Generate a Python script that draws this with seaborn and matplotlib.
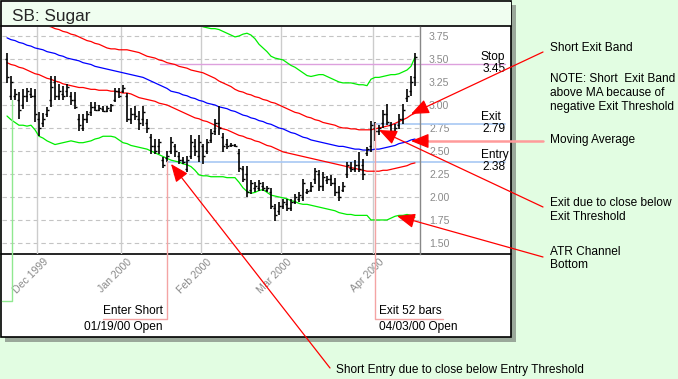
import matplotlib
matplotlib.use("Agg")
import matplotlib.pyplot as plt
import matplotlib.transforms as mtransforms
from matplotlib.lines import Line2D
from matplotlib.patches import Rectangle, FancyArrowPatch
import numpy as np
import pandas as pd
import seaborn as sns

nan = np.nan

# ---- data (one entry per trading day, Nov 19 1999 .. Apr 17 2000) ----
highs = [3.57, 3.32, 3.17, 3.14, 3.17, 3.19, 3.19, 3.17, 2.92, 2.91,
         2.98, 3.31, 3.32, 3.23, 3.21, 3.23, 3.14, 3.14, 2.90, 2.90,
         2.93, 3.03, 3.03, 3.00, 2.99, 2.99, 3.01, 3.19, 3.19, 3.22,
         3.13, 2.97, 2.99, 2.93, 2.99, 2.85, 2.68, 2.63, 2.63, 2.43,
         2.50, 2.65, 2.58, 2.49, 2.43, 2.45, 2.67, 2.63, 2.67, 2.58,
         2.63, 2.74, 2.85, 2.99, 2.69, 2.63, 2.59, 2.58, 2.52, 2.34,
         2.34, 2.18, 2.16, 2.18, 2.16, 2.12, 2.10, 1.92, 1.94, 1.98,
         1.98, 1.98, 2.03, 2.05, 2.20, 2.09, 2.16, 2.32, 2.29, 2.27,
         2.23, 2.24, 2.21, 2.12, 2.16, 2.38, 2.38, 2.40, 2.49, 2.41,
         2.54, 2.83, 2.81, 2.78, 2.95, 3.01, 2.81, 2.79, 2.90, 3.01,
         3.17, 3.32, 3.57]
lows = [3.24, 3.05, 3.05, 2.85, 2.96, 3.03, 3.08, 2.81, 2.66, 2.76,
        2.87, 2.98, 3.05, 3.05, 3.05, 3.09, 3.00, 2.96, 2.72, 2.72,
        2.80, 2.88, 2.93, 2.93, 2.92, 2.92, 2.92, 3.03, 3.08, 3.13,
        2.81, 2.79, 2.84, 2.73, 2.77, 2.70, 2.47, 2.47, 2.47, 2.32,
        2.38, 2.47, 2.43, 2.36, 2.36, 2.27, 2.41, 2.45, 2.38, 2.36,
        2.47, 2.59, 2.67, 2.67, 2.49, 2.52, 2.54, 2.54, 2.27, 2.16,
        2.00, 2.03, 2.05, 2.07, 2.07, 2.05, 1.87, 1.74, 1.80, 1.87,
        1.85, 1.85, 1.92, 1.94, 1.96, 2.03, 2.05, 2.14, 2.07, 2.07,
        2.14, 2.12, 2.01, 1.96, 2.05, 2.21, 2.27, 2.27, 2.27, 2.18,
        2.45, 2.49, 2.61, 2.67, 2.75, 2.78, 2.67, 2.68, 2.74, 2.79,
        3.03, 3.10, 3.21]
opens = [3.50, 3.10, 3.10, 3.05, 3.00, 3.10, 3.12, 3.10, 2.85, 2.80,
         2.90, 3.05, 3.25, 3.10, 3.12, 3.15, 3.10, 3.05, 2.85, 2.75,
         2.85, 2.92, 2.98, 2.95, 2.96, 2.94, 2.95, 3.05, 3.15, 3.15,
         3.10, 2.85, 2.90, 2.85, 2.85, 2.80, 2.65, 2.55, 2.55, 2.40,
         2.42, 2.50, 2.55, 2.45, 2.40, 2.30, 2.45, 2.55, 2.45, 2.55,
         2.50, 2.62, 2.72, 2.80, 2.65, 2.58, 2.56, 2.56, 2.48, 2.30,
         2.25, 2.08, 2.10, 2.10, 2.12, 2.08, 2.05, 1.88, 1.85, 1.90,
         1.92, 1.88, 1.95, 1.98, 2.00, 2.05, 2.08, 2.20, 2.25, 2.12,
         2.18, 2.20, 2.15, 2.05, 2.08, 2.25, 2.32, 2.30, 2.35, 2.35,
         2.48, 2.55, 2.75, 2.72, 2.80, 2.90, 2.78, 2.72, 2.78, 2.85,
         3.08, 3.15, 3.30]
closes = [3.30, 3.25, 3.12, 2.95, 3.10, 3.15, 3.10, 2.90, 2.75, 2.85,
          2.95, 3.20, 3.10, 3.15, 3.10, 3.20, 3.05, 2.98, 2.78, 2.85,
          2.90, 2.98, 2.95, 2.97, 2.94, 2.97, 3.00, 3.15, 3.10, 3.18,
          2.85, 2.90, 2.88, 2.80, 2.92, 2.75, 2.55, 2.50, 2.60, 2.35,
          2.45, 2.60, 2.50, 2.40, 2.38, 2.40, 2.60, 2.50, 2.60, 2.45,
          2.60, 2.70, 2.80, 2.75, 2.55, 2.55, 2.57, 2.55, 2.32, 2.20,
          2.05, 2.15, 2.12, 2.15, 2.10, 2.10, 1.90, 1.80, 1.90, 1.95,
          1.88, 1.95, 2.00, 2.02, 2.15, 2.07, 2.12, 2.28, 2.12, 2.22,
          2.20, 2.15, 2.05, 2.00, 2.12, 2.35, 2.30, 2.35, 2.30, 2.25,
          2.52, 2.78, 2.72, 2.75, 2.90, 2.82, 2.72, 2.75, 2.85, 2.95,
          3.10, 3.25, 3.52]

moving_avg = [3.73, 3.71, 3.70, 3.68, 3.67, 3.65, 3.64,
              3.62, 3.61, 3.60, 3.58, 3.57, 3.56, 3.54, 3.53, 3.51,
              3.50, 3.49, 3.48, 3.46, 3.45, 3.44, 3.42, 3.41,
              3.40, 3.39, 3.38, 3.37, 3.36, 3.35, 3.34, 3.33, 3.32, 3.31, 3.30,
              3.28, 3.26, 3.24, 3.22, 3.20, 3.18, 3.15,
              3.14, 3.13, 3.11, 3.10, 3.08, 3.07, 3.05, 3.04, 3.02,
              3.01, 3.00, 2.98, 2.97, 2.96, 2.94, 2.93, 2.91,
              2.89, 2.88, 2.86, 2.85, 2.83, 2.82, 2.80, 2.79, 2.77, 2.75, 2.74,
              2.72, 2.70, 2.69, 2.67, 2.65, 2.64, 2.62,
              2.61, 2.60, 2.59, 2.58, 2.57, 2.56, 2.55, 2.55, 2.54,
              2.53, 2.52, 2.52, 2.51, 2.51, 2.51,
              2.52, 2.52, 2.53, 2.54, 2.55,
              2.56, 2.58, 2.59, 2.60, 2.62, 2.63]
upper_band = [4.00, 3.99, 3.97, 3.96, 3.94, 3.93, 3.92, 3.90, 3.89, 3.88, 3.86,
              3.85, 3.83, 3.82, 3.80, 3.79, 3.77, 3.76, 3.74, 3.72,
              3.70, 3.69, 3.67, 3.66, 3.64, 3.62, 3.61,
              3.61, 3.60, 3.60, 3.60, 3.59, 3.58, 3.57, 3.55,
              3.53, 3.52, 3.51, 3.49, 3.48, 3.46, 3.45,
              3.44, 3.42, 3.41, 3.40, 3.38, 3.37, 3.36, 3.35, 3.33,
              3.31, 3.29, 3.26, 3.24, 3.22, 3.20, 3.17, 3.15,
              3.14, 3.12, 3.11, 3.09, 3.08, 3.06, 3.05, 3.03, 3.02, 3.00, 2.98,
              2.96, 2.94, 2.92, 2.91, 2.89, 2.87, 2.86,
              2.84, 2.83, 2.81, 2.80, 2.79, 2.78, 2.76, 2.75, 2.75,
              2.74, 2.74, 2.73, 2.73, 2.73, 2.73,
              2.74, 2.75, 2.76, 2.77, 2.78,
              2.80, 2.82, 2.84, 2.86, 2.89, 2.91]
lower_band = [3.46, 3.44, 3.43, 3.41, 3.40, 3.38, 3.36,
              3.34, 3.33, 3.31, 3.29, 3.28, 3.26, 3.25, 3.23, 3.22,
              3.21, 3.20, 3.19, 3.19, 3.18, 3.17, 3.17, 3.16,
              3.16, 3.16, 3.15, 3.15, 3.14, 3.13, 3.13, 3.12, 3.10, 3.08, 3.07,
              3.06, 3.05, 3.04, 3.02, 3.01, 3.00, 2.98,
              2.96, 2.94, 2.92, 2.90, 2.88, 2.86, 2.85, 2.83, 2.82,
              2.80, 2.78, 2.76, 2.74, 2.73, 2.71, 2.69, 2.67,
              2.66, 2.64, 2.63, 2.61, 2.60, 2.58, 2.56, 2.55, 2.53, 2.51, 2.49,
              2.48, 2.47, 2.46, 2.45, 2.44, 2.43, 2.42,
              2.41, 2.40, 2.39, 2.38, 2.37, 2.36, 2.35, 2.34, 2.33,
              2.32, 2.31, 2.30, 2.29, 2.28, 2.28,
              2.28, 2.28, 2.29, 2.29, 2.30,
              2.31, 2.32, 2.33, 2.34, 2.36, 2.37]
atr_top = [nan] * 46 + [3.95, 3.91, 3.87, 3.85, 3.84, 3.83, 3.83,
                        3.82, 3.80, 3.78, 3.76, 3.74, 3.75, 3.77, 3.78,
                        3.76, 3.72, 3.66, 3.62, 3.58, 3.53, 3.51, 3.50, 3.49,
                        3.46, 3.43, 3.41, 3.38, 3.35, 3.32, 3.31, 3.32, 3.33, 3.33,
                        3.31, 3.29, 3.27, 3.25, 3.24, 3.24, 3.24, 3.23, 3.22, 3.22, 3.21, 3.28,
                        3.30, 3.30, 3.31, 3.32, 3.33, 3.33, 3.34, 3.36, 3.38, 3.42, 3.52]
atr_bottom = [2.88, 2.84, 2.81, 2.78, 2.78, 2.77, 2.78, 2.73,
              2.66, 2.64, 2.61, 2.59, 2.57, 2.58, 2.59, 2.60,
              2.61, 2.60, 2.59, 2.59, 2.60, 2.61, 2.63, 2.64, 2.66,
              2.66, 2.66, 2.65, 2.62, 2.59, 2.58, 2.56, 2.55,
              2.54, 2.53, 2.52, 2.50, 2.48, 2.46, 2.44, 2.42,
              2.40, 2.39, 2.38, 2.36, 2.35, 2.33, 2.29, 2.24,
              2.23, 2.23, 2.22, 2.22, 2.22, 2.22, 2.21, 2.21, 2.21,
              2.16, 2.10, 2.06, 2.04, 2.05, 2.07, 2.08, 2.05, 2.02,
              2.01, 2.00, 1.99, 1.98, 1.96, 1.95, 1.93, 1.92, 1.92, 1.91,
              1.90, 1.89, 1.88, 1.87, 1.86, 1.85, 1.83, 1.82, 1.81,
              1.81, 1.80, 1.80, 1.80, 1.80, 1.75,
              1.75, 1.75, 1.75, 1.75, 1.77, 1.79,
              1.80, 1.80, 1.81, 1.80, 1.78]

month_pos = [7.5, 28.5, 48.5, 68.5, 91.5]
month_labels = ['Dec 1999', 'Jan 2000', 'Feb 2000', 'Mar 2000', 'Apr 2000']
y_ticks = [1.50, 1.75, 2.00, 2.25, 2.50, 2.75, 3.00, 3.25, 3.50, 3.75]

entry_bar, exit_bar = 40, 92
stop_level, exit_level, entry_level = 3.45, 2.79, 2.38

bar = np.arange(len(highs))
df = pd.DataFrame({'bar': bar, 'ma': moving_avg, 'upper': upper_band,
                   'lower': lower_band, 'atr_top': atr_top, 'atr_bottom': atr_bottom})

# ---- figure / panel ----
sns.set_style("white")
plt.rcParams['font.family'] = ['Liberation Sans', 'DejaVu Sans']

W, H = 678, 379
fig = plt.figure(figsize=(W / 100, H / 100), dpi=100)
fig.patch.set_facecolor('#e2fde2')


def fx(x):
    return x / W


def fy(y):
    return 1 - y / H


fig.add_artist(Rectangle((fx(5), fy(342)), 511 / W, 337 / H, transform=fig.transFigure,
                         fc='#9aa89a', ec='none', zorder=-3))
fig.add_artist(Rectangle((fx(1), fy(337)), 510 / W, 336 / H, transform=fig.transFigure,
                         fc='white', ec='black', lw=1.2, zorder=-2))
fig.add_artist(Rectangle((fx(1.5), fy(26)), 509 / W, 24.5 / H, transform=fig.transFigure,
                         fc='#f0fef0', ec='none', zorder=-1))
for yy in (26, 254):
    fig.add_artist(Line2D([fx(1), fx(511)], [fy(yy), fy(yy)], transform=fig.transFigure,
                          color='black', lw=1.2, zorder=-1))
fig.text(fx(12), fy(20.5), 'SB: Sugar', fontsize=12.4, va='baseline', ha='left')

# ---- price axes ----
ax = fig.add_axes([fx(2), fy(254), (420 - 2) / W, (254 - 26.7) / H])
ax.set_facecolor('none')
ax.set_xlim(-1.25, 103.25)
ax.set_ylim(1.38, 3.851)

for y in y_ticks:
    ax.axhline(y, color='#c4c4c4', lw=0.8, ls=(0, (4, 3)), zorder=0)
ax.set_xticks(month_pos)
ax.grid(axis='x', color='#cccccc', lw=1.0)
ax.set_axisbelow(True)

sns.lineplot(data=df, x='bar', y='atr_top', color='#00ee00', lw=0.9, estimator=None, ax=ax)
sns.lineplot(data=df, x='bar', y='atr_bottom', color='#00ee00', lw=0.9, estimator=None, ax=ax)
sns.lineplot(data=df, x='bar', y='upper', color='#ff0000', lw=0.9, estimator=None, ax=ax)
sns.lineplot(data=df, x='bar', y='lower', color='#ff0000', lw=0.9, estimator=None, ax=ax)
sns.lineplot(data=df, x='bar', y='ma', color='#0000ff', lw=0.9, estimator=None, ax=ax)

# trade level lines
ax.plot([38.25, 124.5], [stop_level] * 2, color='#dda0dd', lw=1.0, clip_on=False, zorder=1)
ax.plot([entry_bar, 124.5], [entry_level] * 2, color='#a8c8f4', lw=1.2, clip_on=False, zorder=1)
ax.plot([exit_bar - 0.5, 124.5], [exit_level] * 2, color='#a8c8f4', lw=1.2, clip_on=False, zorder=1)

# OHLC bars
ax.vlines(bar, lows, highs, color='black', lw=1.2, zorder=3)
ax.hlines(opens, bar - 0.4, bar, color='black', lw=1.0, zorder=3)
ax.hlines(closes, bar, bar + 0.4, color='black', lw=1.0, zorder=3)

ax.set_xlabel('')
ax.set_ylabel('')
ax.yaxis.tick_right()
ax.set_yticks(y_ticks)
ax.set_yticklabels(['%.2f' % t for t in y_ticks], color='#8a8a8a', fontsize=7.6)
ax.tick_params(axis='y', length=0, pad=6.5)
ax.set_xticklabels(month_labels, rotation=45, ha='right', va='top', rotation_mode='anchor',
                   color='#8a8a8a', fontsize=7.6)
ax.tick_params(axis='x', length=0, pad=2)
shift = mtransforms.ScaledTranslation(6 / 100, 0, fig.dpi_scale_trans)
for lab in ax.get_xticklabels():
    lab.set_transform(lab.get_transform() + shift)
for side in ('top', 'left', 'bottom'):
    ax.spines[side].set_visible(False)
ax.spines['right'].set_color('#888888')
ax.spines['right'].set_linewidth(1.0)

# trade markers below the chart
fig.add_artist(Line2D([fx(12), fx(12), fx(2)], [fy(100), fy(301), fy(301)],
                      transform=fig.transFigure, color='#90e890', lw=1.0))
fig.add_artist(Line2D([fx(167), fx(167), fx(103)], [fy(161), fy(319), fy(319)],
                      transform=fig.transFigure, color='#f4a4a4', lw=1.0))
fig.add_artist(Line2D([fx(375), fx(375), fx(443)], [fy(123), fy(319), fy(319)],
                      transform=fig.transFigure, color='#f4a4a4', lw=1.0))

txt = dict(fontsize=8.6, color='black')
fig.text(fx(163), fy(311), 'Enter Short', ha='right', va='center', **txt)
fig.text(fx(163), fy(327), '01/19/00 Open', ha='right', va='center', **txt)
fig.text(fx(379), fy(311), 'Exit 52 bars', ha='left', va='center', **txt)
fig.text(fx(379), fy(327), '04/03/00 Open', ha='left', va='center', **txt)

for name, val, yy in (('Stop', stop_level, 63), ('Exit', exit_level, 123), ('Entry', entry_level, 161)):
    fig.text(fx(481), fy(yy - 6), name, ha='left', va='center', **txt)
    fig.text(fx(506), fy(yy + 6), '%.2f' % val, ha='right', va='center', **txt)

# annotations
fig.text(fx(550), fy(48), 'Short Exit Band', ha='left', va='center', **txt)
fig.text(fx(550), fy(93), 'NOTE: Short  Exit Band\nabove MA because of\nnegative Exit Threshold',
         ha='left', va='center', linespacing=1.2, **txt)
fig.text(fx(550), fy(140), 'Moving Average', ha='left', va='center', **txt)
fig.text(fx(550), fy(210), 'Exit due to close below\nExit Threshold', ha='left', va='center',
         linespacing=1.2, **txt)
fig.text(fx(550), fy(258.5), 'ATR Channel\nBottom', ha='left', va='center', linespacing=1.2, **txt)
fig.text(fx(336), fy(370), 'Short Entry due to close below Entry Threshold', ha='left', va='center', **txt)


def arrow(x0, y0, x1, y1, color='#ff0000', lw=0.9):
    fig.add_artist(FancyArrowPatch((fx(x0), fy(y0)), (fx(x1), fy(y1)), transform=fig.transFigure,
                                   arrowstyle='-|>,head_length=1.1,head_width=0.45',
                                   mutation_scale=10, color=color, lw=lw,
                                   shrinkA=0, shrinkB=0, zorder=5))


arrow(543, 52, 411, 114)
fig.add_artist(Line2D([fx(543), fx(425)], [fy(141), fy(141)], transform=fig.transFigure,
                      color='#ff9a9a', lw=1.8, zorder=5))
arrow(428, 141, 411, 141)
arrow(543, 207, 379, 130)
arrow(543, 257, 397, 216)
arrow(330, 368, 171, 164)

fig.savefig('out.png', dpi=100, facecolor=fig.get_facecolor())
